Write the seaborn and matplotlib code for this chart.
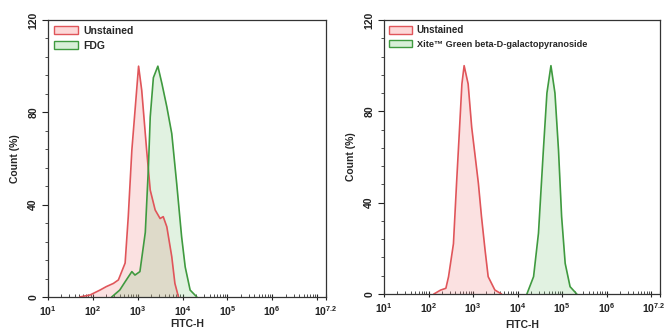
import numpy as np
import pandas as pd
import matplotlib
matplotlib.use("Agg")
import matplotlib.pyplot as plt
import matplotlib.transforms as mtransforms
import seaborn as sns
from matplotlib.patches import Patch
from matplotlib.ticker import FixedLocator, NullFormatter

# ---- data (log10 FITC-H, count %) ----
l_red_log = [1.71, 1.94, 2.16, 2.30, 2.46, 2.57, 2.72, 2.79, 2.87, 3.02, 3.09, 3.20, 3.28, 3.39, 3.50, 3.57, 3.65, 3.76, 3.83, 3.91]
l_red_cnt = [0, 0.9, 3.0, 4.5, 5.9, 7.4, 14.7, 34.8, 63.6, 100, 89.6, 63.6, 46.3, 37.7, 34.0, 34.8, 30.4, 17.5, 5.9, 0]
l_grn_log = [2.42, 2.60, 2.72, 2.87, 2.94, 3.05, 3.17, 3.24, 3.28, 3.35, 3.45, 3.54, 3.65, 3.76, 3.87, 3.98, 4.06, 4.17, 4.32]
l_grn_cnt = [0, 3.0, 6.6, 11.0, 9.5, 11.0, 28.0, 56.4, 78.0, 95.0, 100, 92.5, 82.4, 70.8, 49.2, 26.1, 13.0, 3.0, 0]

r_red_log = [2.12, 2.27, 2.39, 2.45, 2.56, 2.63, 2.69, 2.75, 2.80, 2.89, 2.97, 3.04, 3.12, 3.19, 3.27, 3.34, 3.49, 3.64]
r_red_cnt = [0, 1.7, 2.5, 7.6, 22.0, 48.5, 70.0, 92.0, 100, 92.0, 73.0, 61.6, 48.5, 33.9, 19.3, 7.6, 1.75, 0]
r_grn_log = [4.21, 4.36, 4.47, 4.58, 4.66, 4.75, 4.84, 4.92, 4.99, 5.07, 5.18, 5.33]
r_grn_cnt = [0, 7.6, 26.6, 63.0, 88.0, 100, 88.0, 63.0, 33.9, 13.4, 3.2, 0]

left_labels = ["Unstained", "FDG"]
right_labels = ["Unstained", "Xite\u2122 Green beta-D-galactopyranoside"]
xtick_exps = [1, 2, 3, 4, 5, 6, 7, 7.2]
xtick_labels = [r"$\mathbf{10^{1}}$", r"$\mathbf{10^{2}}$", r"$\mathbf{10^{3}}$", r"$\mathbf{10^{4}}$",
                r"$\mathbf{10^{5}}$", r"$\mathbf{10^{6}}$", "", r"$\mathbf{10^{7.2}}$"]
ytick_vals = [0, 40, 80, 120]

sns.set_style("white")
plt.rcParams['font.family'] = ['Liberation Sans', 'DejaVu Sans']
plt.rcParams['mathtext.fontset'] = 'custom'
plt.rcParams['mathtext.bf'] = 'Liberation Sans:bold'
plt.rcParams['mathtext.rm'] = 'Liberation Sans'

RED_LINE = "#e0555a"
RED_FILL = "#f07a7a"
GRN_LINE = "#3f9a3f"
GRN_FILL = "#6cbf6c"

fig = plt.figure(figsize=(6.68, 3.30), dpi=100)
axL = fig.add_axes([48/668, 1-297/330, 278/668, 277/330])
axR = fig.add_axes([384/668, 1-294/330, 276/668, 274/330])

def draw(ax, red_log, red_cnt, grn_log, grn_cnt, labels, legend_fs, xlabelpad):
    rx = 10 ** np.array(red_log)
    gx = 10 ** np.array(grn_log)
    ax.fill_between(rx, red_cnt, 0, color=RED_FILL, alpha=0.22, lw=0)
    ax.fill_between(gx, grn_cnt, 0, color=GRN_FILL, alpha=0.2, lw=0)
    df_r = pd.DataFrame({"x": rx, "y": red_cnt})
    df_g = pd.DataFrame({"x": gx, "y": grn_cnt})
    sns.lineplot(data=df_r, x="x", y="y", ax=ax, color=RED_LINE, lw=1.2, sort=False, estimator=None)
    sns.lineplot(data=df_g, x="x", y="y", ax=ax, color=GRN_LINE, lw=1.2, sort=False, estimator=None)
    ax.set_xscale("log")
    ax.set_xlim(10, 10 ** 7.2)
    ax.set_ylim(0, 120)
    ax.set_xticks([10 ** e for e in xtick_exps])
    ax.set_xticklabels(xtick_labels, fontsize=7.5)
    minors = []
    for d in range(1, 8):
        for m in range(2, 10):
            v = m * 10 ** d
            if v < 10 ** 7.2:
                minors.append(v)
    ax.xaxis.set_minor_locator(FixedLocator(minors))
    ax.xaxis.set_minor_formatter(NullFormatter())
    ax.set_yticks(ytick_vals)
    ax.set_yticklabels([str(v) for v in ytick_vals], fontsize=7.5, fontweight="bold",
                       rotation=90, va="center")
    ax.yaxis.set_minor_locator(FixedLocator([v for v in range(0, 121, 8) if v not in ytick_vals]))
    ax.tick_params(axis="x", which="major", direction="inout", length=5, width=0.8, pad=3, colors="#222")
    ax.tick_params(axis="x", which="minor", direction="in", length=2.5, width=0.6, colors="#333")
    ax.tick_params(axis="y", which="major", direction="out", length=4, width=0.8, pad=3, colors="#222")
    ax.tick_params(axis="y", which="minor", direction="out", length=2.5, width=0.6, colors="#333")
    ax.tick_params(bottom=True, left=True, which="both")
    for s in ax.spines.values():
        s.set_visible(True)
        s.set_color("#333333")
        s.set_linewidth(0.9)
    ax.set_xlabel("FITC-H", fontsize=7.5, fontweight="bold", labelpad=xlabelpad)
    ax.set_ylabel("Count (%)", fontsize=7.5, fontweight="bold", labelpad=6)
    handles = [Patch(facecolor="#fcd8d8", edgecolor=RED_LINE, lw=1.0, label=labels[0]),
               Patch(facecolor="#d8efd8", edgecolor=GRN_LINE, lw=1.0, label=labels[1])]
    leg = ax.legend(handles=handles, loc="upper left", frameon=False, fontsize=legend_fs,
                    handlelength=2.3, handleheight=0.75, handletextpad=0.5,
                    labelspacing=0.5, borderaxespad=0.15, bbox_to_anchor=(0.0, 1.0))
    for t in leg.get_texts():
        t.set_fontweight("bold")
    return leg

draw(axL, l_red_log, l_red_cnt, l_grn_log, l_grn_cnt, left_labels, 7.5, 0.5)
legR = draw(axR, r_red_log, r_red_cnt, r_grn_log, r_grn_cnt, right_labels, 7.0, 3)
legR.get_texts()[1].set_fontsize(6.6)

# keep the last tick label of the right panel inside the figure
lbl = axR.get_xticklabels()[-1]
lbl.set_transform(lbl.get_transform() + mtransforms.ScaledTranslation(-6/100, 0, fig.dpi_scale_trans))

fig.savefig("out.png", dpi=100)
